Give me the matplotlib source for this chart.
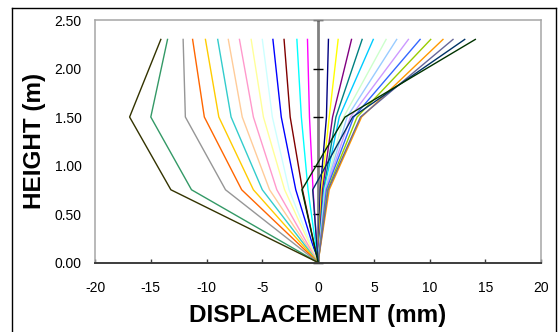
import matplotlib
matplotlib.use('Agg')
import matplotlib.pyplot as plt
from matplotlib.lines import Line2D

plt.rcParams['font.family'] = ['Liberation Sans', 'DejaVu Sans']

# heights of the measuring points (m)
heights = [0.0, 0.75, 1.5, 2.3]

# displacement (mm) of each load step at 0.75 m, 1.5 m and 2.3 m
disp_075 = [0.2, -0.45, 0.3, -0.9, 0.4, -1.4, 0.5, -2.0, 0.55, -2.6, 0.6, -3.0, 0.65, -3.7,
            0.7, -4.35, 0.75, -5.0, 0.85, -5.8, 1.0, -6.85, 0.9, -8.3, -0.48, -11.35, -1.45, -13.2]
disp_150 = [0.75, -0.77, 1.0, -1.5, 1.3, -2.5, 1.6, -3.3, 1.9, -4.1, 2.3, -4.9, 2.6, -5.8,
            2.9, -6.8, 3.2, -7.8, 3.5, -8.9, 3.9, -10.2, 3.8, -11.9, 3.1, -15.0, 2.42, -16.9]
disp_230 = [0.93, -0.95, 1.8, -1.9, 3.0, -3.05, 3.95, -4.05, 4.95, -5.0, 6.1, -6.0, 7.05, -7.05,
            8.1, -8.05, 9.15, -9.0, 10.1, -10.1, 11.2, -11.25, 12.1, -12.1, 13.15, -13.5, 14.1, -14.1]

colors = ['#000080', '#FF00FF', '#FFFF00', '#00FFFF', '#800080', '#800000', '#008080',
          '#0000FF', '#00CCFF', '#CCFFFF', '#CCFFCC', '#FFFF99', '#99CCFF', '#FF99CC',
          '#CC99FF', '#FFCC99', '#3366FF', '#33CCCC', '#99CC00', '#FFCC00', '#FF9900',
          '#FF6600', '#666699', '#969696', '#003366', '#339966', '#003300', '#333300']

x_ticks = [-20, -15, -10, -5, 0, 5, 10, 15, 20]
y_ticks = [0.0, 0.5, 1.0, 1.5, 2.0, 2.5]

fig = plt.figure(figsize=(5.59, 3.32), dpi=100)
ax = fig.add_axes([0.170, 0.2093, 0.798, 0.7304])

# frame around the chart
fig.add_artist(Line2D([0.0215, 0.0215], [0.976, 0.0], color='black', lw=1.0))
fig.add_artist(Line2D([0.0215, 0.995], [0.976, 0.976], color='black', lw=1.0))
fig.add_artist(Line2D([0.995, 0.995], [0.976, 0.0], color='black', lw=1.0))

# vertical axis at zero displacement
ax.axvline(0, color='#808080', lw=2.0, zorder=1)
ax.plot([0] * len(y_ticks), y_ticks, ls='none', marker='_', ms=7.5, mew=1.0,
        color='black', zorder=1.5, clip_on=False)

for i in range(len(colors)):
    xs = [0.0, disp_075[i], disp_150[i], disp_230[i]]
    ax.plot(xs, heights, color=colors[i], lw=1.0, zorder=2)

ax.set_xlim(-20, 20)
ax.set_ylim(0, 2.5)
ax.set_xticks(x_ticks)
ax.set_yticks(y_ticks)
ax.set_xticklabels([str(v) for v in x_ticks])
ax.set_yticklabels(['%.2f' % v for v in y_ticks])

for side in ['left', 'top', 'right']:
    ax.spines[side].set_color('#A6A6A6')
    ax.spines[side].set_linewidth(1.1)
ax.spines['bottom'].set_color('#3C3C3C')
ax.spines['bottom'].set_linewidth(1.4)

ax.tick_params(axis='y', length=0, pad=9.5, labelsize=10)
ax.tick_params(axis='x', direction='in', length=3, width=1, color='#3C3C3C',
               pad=13.5, labelsize=10)

ax.set_xlabel('DISPLACEMENT (mm)', fontsize=17.5, fontweight='bold', labelpad=6)
ax.set_ylabel('HEIGHT (m)', fontsize=17.5, fontweight='bold', labelpad=6)

fig.savefig('out.png', dpi=100)
